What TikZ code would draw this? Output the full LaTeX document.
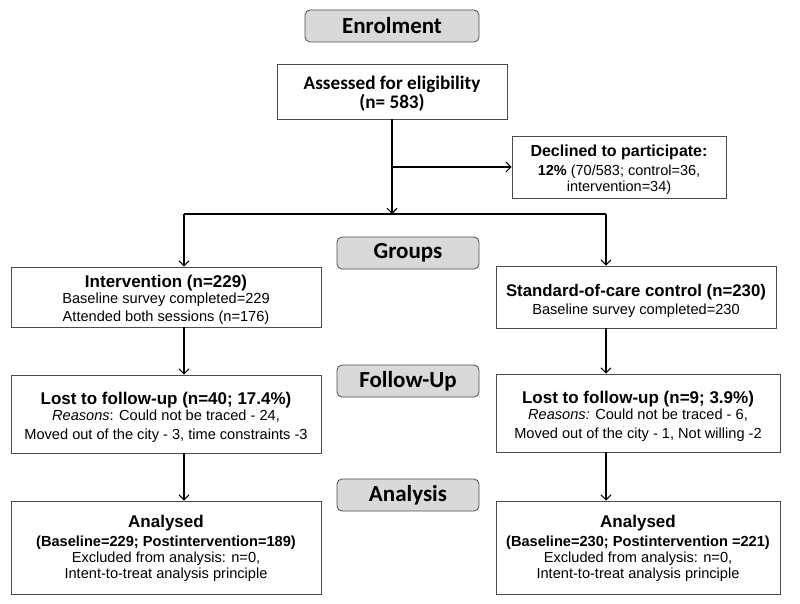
\documentclass[tikz,border=0pt]{standalone}
\usepackage{fontspec}
\setmainfont{Liberation Sans}
\newfontfamily\calfont{Carlito}
\usetikzlibrary{arrows.meta,calc}
\begin{document}
\begin{tikzpicture}[x=1pt,y=-1pt,
  box/.style={draw=black!70, line width=0.8pt, fill=white, inner sep=0pt},
  txt/.style={inner sep=0pt, align=center, font=\fontsize{14.6}{18.5}\selectfont},
  stage/.style={draw=black!70, line width=0.8pt, fill=black!15, rounded corners=5pt, inner sep=0pt,
    minimum width=142pt, minimum height=32pt, font=\calfont\bfseries\fontsize{23}{24}\selectfont},
  conn/.style={line width=1.1pt, black},
  arr/.style={conn, -{Straight Barb[length=5pt,width=10pt,line width=1.1pt]}}
]
\useasboundingbox (0,0) rectangle (800,604);
\fill[white] (0,0) rectangle (800,604);

% stage labels
\node[stage, minimum width=174pt] (enrol) at (392,26) {Enrolment};
\node[stage] (groups) at (408,253) {Groups};
\node[stage] (follow) at (408,381) {Follow-Up};
\node[stage] (analysis) at (408,495) {Analysis};

% boxes
\node[box, minimum width=230pt, minimum height=55pt] (assess) at (392,91.5) {};
\node[box, minimum width=214pt, minimum height=62pt] (declined) at (619,167) {};
\node[box, minimum width=310pt, minimum height=60pt] (int) at (166,297) {};
\node[box, minimum width=280pt, minimum height=62pt] (std) at (636,297) {};
\node[box, minimum width=310pt, minimum height=78pt] (lost1) at (166,414) {};
\node[box, minimum width=284pt, minimum height=78pt] (lost2) at (638,413) {};
\node[box, minimum width=310pt, minimum height=93pt] (an1) at (166,547.5) {};
\node[box, minimum width=284pt, minimum height=93pt] (an2) at (638,547.5) {};

% texts
\node[txt, font=\calfont\bfseries\fontsize{19.2}{17.5}\selectfont] (assessT) at ([yshift=-2pt]assess.center)
  {Assessed for eligibility\\(n= 583)};
\node[txt, font=\fontsize{14.5}{16}\selectfont] (declinedT) at ([yshift=-3pt]declined.center)
  {{\bfseries\fontsize{16}{18}\selectfont Declined to participate:}\\[3pt]
   \textbf{12\%} (70/583; control=36,\\ intervention=34)};
\node[txt] (intT) at ([yshift=-3pt]int.center)
  {{\bfseries\fontsize{17}{18}\selectfont Intervention (n=229)}\\[-3pt]
   Baseline survey completed=229\\ Attended both sessions (n=176)};
\node[txt] (stdT) at ([yshift=-4pt]std.center)
  {{\bfseries\fontsize{16.8}{18}\selectfont Standard-of-care control (n=230)}\\
   Baseline survey completed=230};
\node[txt] (lost1T) at ([yshift=-3pt]lost1.center)
  {{\bfseries\fontsize{17}{18}\selectfont Lost to follow-up (n=40; 17.4\%)}\\[-2pt]
   \textit{Reasons}: Could not be traced - 24,\\ Moved out of the city - 3, time constraints -3};
\node[txt] (lost2T) at ([yshift=-3pt]lost2.center)
  {{\bfseries\fontsize{17}{18}\selectfont Lost to follow-up (n=9; 3.9\%)}\\[-2pt]
   \textit{Reasons:} Could not be traced - 6,\\ Moved out of the city - 1, Not willing -2};
\node[txt, font=\fontsize{14.6}{16}\selectfont] (an1T) at ([yshift=-1pt]an1.center)
  {{\bfseries\fontsize{17}{18}\selectfont Analysed}\\[3pt]
   \textbf{(Baseline=229; Postintervention=189)}\\ Excluded from analysis: n=0,\\ Intent-to-treat analysis principle};
\node[txt, font=\fontsize{14.6}{16}\selectfont] (an2T) at ([yshift=-1pt]an2.center)
  {{\bfseries\fontsize{17}{18}\selectfont Analysed}\\[3pt]
   \textbf{(Baseline=230; Postintervention =221)}\\ Excluded from analysis: n=0,\\ Intent-to-treat analysis principle};

% connectors
\coordinate (split) at (392,214);
\coordinate (L) at (184,214);
\coordinate (R) at (606,214);
\coordinate (br) at (392,167);
\draw[arr] (assess.south) -- (split);
\draw[arr] (br) -- (declined.west);
\draw[conn] (L) -- (R);
\draw[arr] (L) -- (L |- int.north);
\draw[arr] (R) -- (R |- std.north);
\draw[arr] (L |- int.south) -- (L |- lost1.north);
\draw[arr] (R |- std.south) -- (R |- lost2.north);
\draw[arr] (L |- lost1.south) -- (L |- an1.north);
\draw[arr] (R |- lost2.south) -- (R |- an2.north);
\end{tikzpicture}
\end{document}
